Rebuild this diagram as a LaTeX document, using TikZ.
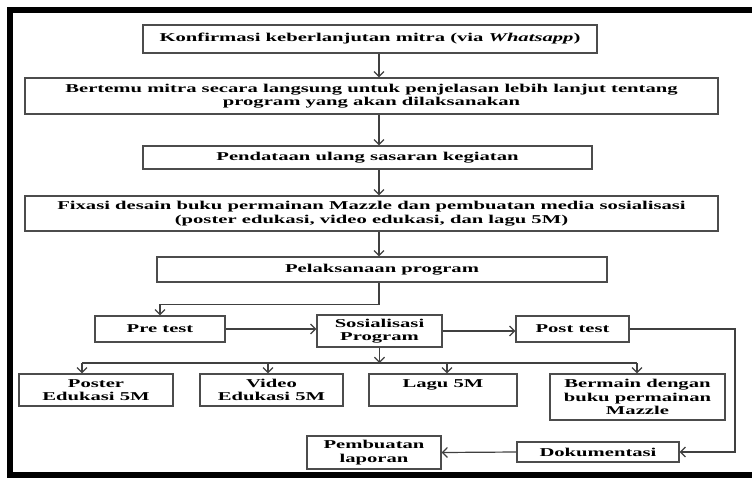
\documentclass[tikz,border=0pt]{standalone}
\usepackage{fontspec}
\setmainfont{Liberation Serif}[FakeStretch=1.72]
\usepackage{tikz}
\usetikzlibrary{positioning,arrows.meta}

\begin{document}
\begin{tikzpicture}[x=1pt, y=-1pt,
	box/.style = {rectangle, draw=black!70, line width=1.2pt, align=center, inner sep=0pt,
		font=\fontsize{12}{13.5}\selectfont\bfseries},
	arr/.style = {-{Straight Barb[length=5pt,width=10pt]}, line width=1.2pt, draw=black!75},
	lin/.style = {-, line width=1.2pt, draw=black!75}]
	\useasboundingbox (0,0) rectangle (752,477);
	\draw[line width=6pt] (10,475) rectangle (775,10);

	\node[box, minimum width=454pt, minimum height=28pt] (konf) at (370,39) {Konfirmasi keberlanjutan mitra (via \textit{Whatsapp})};
	\node[box, minimum width=693pt, minimum height=36pt] (temu) at (371.5,96) {Bertemu mitra secara langsung untuk penjelasan lebih lanjut tentang\\program yang akan dilaksanakan};
	\node[box, minimum width=449pt, minimum height=23pt] (data) at (367.5,157.5) {Pendataan ulang sasaran kegiatan};
	\node[box, minimum width=693pt, minimum height=35pt] (fiks) at (371.5,213.5) {Fixasi desain buku permainan Mazzle dan pembuatan media sosialisasi\\(poster edukasi, video edukasi, dan lagu 5M)};
	\node[box, minimum width=450pt, minimum height=25pt] (laks) at (382,269.5) {Pelaksanaan program};

	\node[box, minimum width=130pt, minimum height=26pt] (pre) at (160,329) {Pre test};
	\node[box, minimum width=125pt, minimum height=32pt] (sos) at (379.5,331) {Sosialisasi\\Program};
	\node[box, minimum width=113pt, minimum height=26pt] (post) at (572.5,329) {Post test};

	\node[box, minimum width=154pt, minimum height=32pt] (poster) at (96,390) {Poster\\Edukasi 5M};
	\node[box, minimum width=143pt, minimum height=32pt] (video) at (271.5,390) {Video\\Edukasi 5M};
	\node[box, minimum width=148pt, minimum height=32pt] (lagu) at (443,390) {Lagu 5M\\\phantom{5M}};
	\node[box, minimum width=175pt, minimum height=46pt] (main) at (637.5,397) {Bermain dengan\\buku permainan\\Mazzle};

	\node[box, minimum width=134pt, minimum height=33pt] (lapor) at (374,452.5) {Pembuatan\\laporan};
	\node[box, minimum width=162pt, minimum height=20pt] (doku) at (598,452) {Dokumentasi};

	\coordinate (axis) at (379,0);
	\coordinate (bend) at (735,452);
	\coordinate (d1) at (82,363);
	\coordinate (d2) at (268,363);
	\coordinate (d3) at (447,363);
	\coordinate (d4) at (637,363);

	\draw[arr] (konf.south -| axis) to (temu.north -| axis);
	\draw[arr] (temu.south -| axis) to (data.north -| axis);
	\draw[arr] (data.south -| axis) to (fiks.north -| axis);
	\draw[arr] (fiks.south -| axis) to (laks.north -| axis);
	\draw[arr] (laks.south -| axis) -- ++(0,22) -| (pre.north);

	\draw[arr] (pre.east) to (pre.east -| sos.west);
	\draw[arr] (sos.east) to (sos.east -| post.west);
	\draw[arr] (post.east) -| (bend) -- (doku.east);
	\draw[arr] (doku.west) to (lapor.east);

	\draw[arr] (sos.south) to (sos.south |- d1);
	\draw[lin] (d1) to (d4);
	\draw[arr] (d1) to (d1 |- poster.north);
	\draw[arr] (d2) to (d2 |- video.north);
	\draw[arr] (d3) to (d3 |- lagu.north);
	\draw[arr] (d4) to (d4 |- main.north);
\end{tikzpicture}
\end{document}
